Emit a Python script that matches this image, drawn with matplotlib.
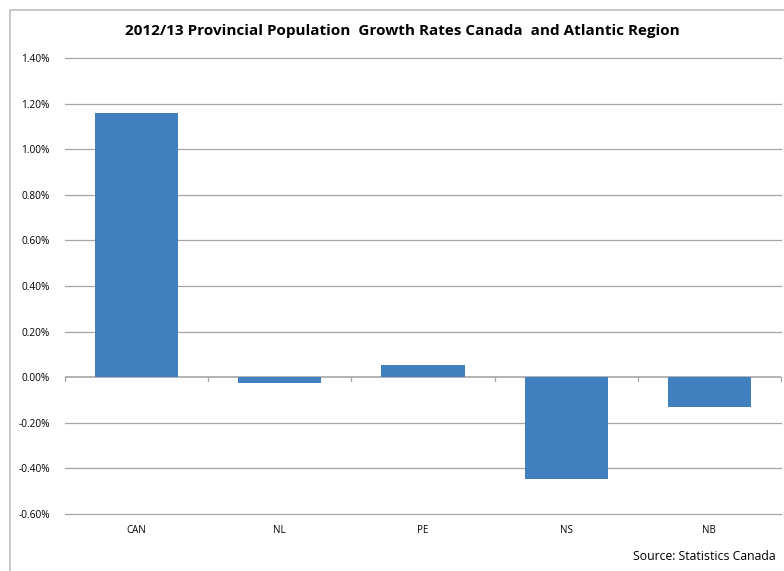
import matplotlib.pyplot as plt
from matplotlib.patches import Rectangle
from matplotlib.ticker import FuncFormatter

# data (percent)
regions = ['CAN', 'NL', 'PE', 'NS', 'NB']
growth = [1.158, -0.026, 0.053, -0.447, -0.13]
y_ticks = [-0.6, -0.4, -0.2, 0.0, 0.2, 0.4, 0.6, 0.8, 1.0, 1.2, 1.4]

plt.rcParams['font.family'] = ['Open Sans', 'DejaVu Sans']

fig = plt.figure(figsize=(7.84, 5.71), dpi=100)
ax = fig.add_axes([65/784, 1 - 514/571, 716/784, 456/571])

# outer chart border
fig.patches.append(Rectangle((10/784, -0.05), 1.2, 1 - 10/571 + 0.05,
                             transform=fig.transFigure, fill=False,
                             edgecolor='#bfbfbf', linewidth=1.2))

x = list(range(len(regions)))
ax.bar(x, growth, width=0.58, color='#4180bf', zorder=3)

ax.set_xlim(-0.5, len(regions) - 0.5)
ax.set_ylim(-0.6, 1.4)
ax.set_yticks(y_ticks)
ax.yaxis.set_major_formatter(FuncFormatter(lambda v, p: f'{v:.2f}%'))
for t in y_ticks:
    if t != 0:
        ax.axhline(t, color='#a6a6a6', linewidth=0.9, zorder=0, clip_on=False)
ax.tick_params(axis='y', length=0, labelsize=7.3, pad=11)

# category labels at the bottom, tick marks on the zero line
ax.set_xticks(x)
ax.set_xticklabels(regions)
ax.tick_params(axis='x', length=0, labelsize=7, pad=8)
ax.axhline(0, color='#a6a6a6', linewidth=1.2, zorder=2)
for b in [i - 0.5 for i in range(len(regions) + 1)]:
    ax.plot([b, b], [0, -0.018], color='#a6a6a6', linewidth=0.9,
            zorder=2, clip_on=False)

for s in ax.spines.values():
    s.set_visible(False)

fig.text(402/784, 1 - 31/571,
         '2012/13 Provincial Population  Growth Rates Canada  and Atlantic Region',
         ha='center', va='center', fontsize=11, fontweight='bold')
fig.text(776/784, 1 - 557/571, 'Source: Statistics Canada',
         ha='right', va='center', fontsize=8.8)

fig.savefig('out.png', dpi=100)
